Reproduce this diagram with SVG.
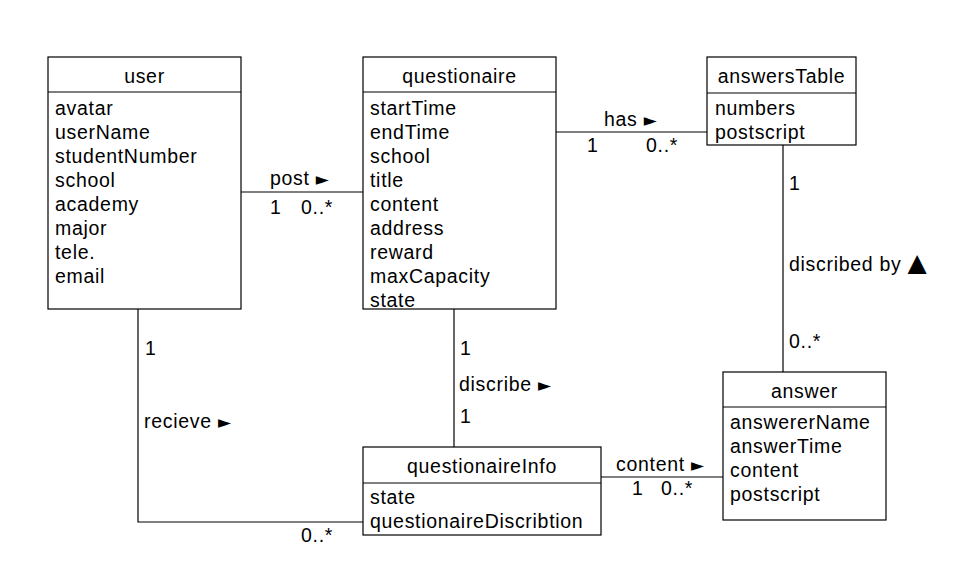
<svg xmlns="http://www.w3.org/2000/svg" width="961" height="562" viewBox="0 0 961 562">
<style>
text{font-family:"Liberation Sans",Arial,sans-serif;font-size:19.5px;letter-spacing:0.7px;fill:#000}
.t{text-anchor:middle}
.box{fill:#fff;stroke:#000;stroke-width:1.2}
.sep{stroke:#000;stroke-width:1.2}
.c{fill:none;stroke:#000;stroke-width:1.2}
.ar{font-family:"DejaVu Sans",sans-serif;font-size:17px;letter-spacing:0}
.tri{font-family:"DejaVu Sans",sans-serif;font-size:25px;letter-spacing:0}
</style>
<rect width="961" height="562" fill="#fff"/>
<g id="connectors">
<polyline class="c" points="241,192 363,192"/>
<polyline class="c" points="556,132 707,132"/>
<polyline class="c" points="783,145 783,372"/>
<polyline class="c" points="454,309 454,447"/>
<polyline class="c" points="138,309 138,522 363,522"/>
<polyline class="c" points="601,477 723,477"/>
<text x="270" y="185">post <tspan class="ar">►</tspan></text>
<text x="270" y="214">1</text>
<text x="301" y="214">0..*</text>
<text x="604" y="126">has <tspan class="ar">►</tspan></text>
<text x="587" y="152">1</text>
<text x="646" y="152">0..*</text>
<text x="789" y="190">1</text>
<text x="789" y="271">discribed by <tspan class="tri">▲</tspan></text>
<text x="789" y="348">0..*</text>
<text x="460" y="355">1</text>
<text x="459" y="391">discribe <tspan class="ar">►</tspan></text>
<text x="460" y="423">1</text>
<text x="145" y="355">1</text>
<text x="144" y="428">recieve <tspan class="ar">►</tspan></text>
<text x="301" y="542">0..*</text>
<text x="616" y="471">content <tspan class="ar">►</tspan></text>
<text x="632" y="495">1</text>
<text x="661" y="495">0..*</text>
</g>
<g id="user">
<rect class="box" x="48" y="57" width="193" height="252"/>
<line class="sep" x1="48" y1="92" x2="241" y2="92"/>
<text class="t" x="144.5" y="83">user</text>
<text x="55" y="115">avatar</text>
<text x="55" y="139">userName</text>
<text x="55" y="163">studentNumber</text>
<text x="55" y="187">school</text>
<text x="55" y="211">academy</text>
<text x="55" y="235">major</text>
<text x="55" y="259">tele.</text>
<text x="55" y="283">email</text>
</g>
<g id="questionaire">
<rect class="box" x="363" y="57" width="193" height="252"/>
<line class="sep" x1="363" y1="92" x2="556" y2="92"/>
<text class="t" x="459.5" y="83">questionaire</text>
<text x="370" y="115">startTime</text>
<text x="370" y="139">endTime</text>
<text x="370" y="163">school</text>
<text x="370" y="187">title</text>
<text x="370" y="211">content</text>
<text x="370" y="235">address</text>
<text x="370" y="259">reward</text>
<text x="370" y="283">maxCapacity</text>
<text x="370" y="307">state</text>
</g>
<g id="answersTable">
<rect class="box" x="707" y="57" width="149" height="88"/>
<line class="sep" x1="707" y1="93" x2="856" y2="93"/>
<text class="t" x="781.5" y="83">answersTable</text>
<text x="715" y="115">numbers</text>
<text x="715" y="139">postscript</text>
</g>
<g id="answer">
<rect class="box" x="723" y="372" width="163" height="148"/>
<line class="sep" x1="723" y1="407" x2="886" y2="407"/>
<text class="t" x="804.5" y="398">answer</text>
<text x="730" y="429">answererName</text>
<text x="730" y="453">answerTime</text>
<text x="730" y="477">content</text>
<text x="730" y="501">postscript</text>
</g>
<g id="questionaireInfo">
<rect class="box" x="363" y="447" width="238" height="88"/>
<line class="sep" x1="363" y1="483" x2="601" y2="483"/>
<text class="t" x="482" y="473">questionaireInfo</text>
<text x="370" y="504">state</text>
<text x="370" y="528">questionaireDiscribtion</text>
</g>
</svg>
